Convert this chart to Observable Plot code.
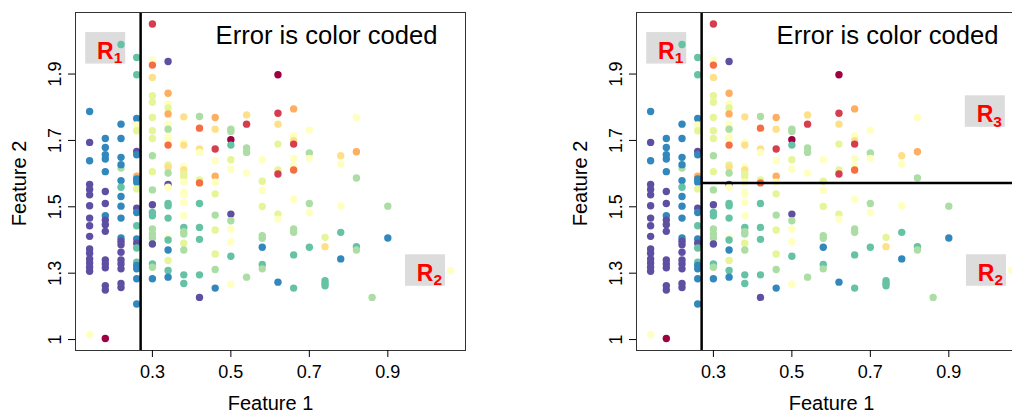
<!DOCTYPE html>
<html>
<head>
<meta charset="utf-8">
<script src="https://cdn.jsdelivr.net/npm/d3@7"></script>
<script src="https://cdn.jsdelivr.net/npm/@observablehq/plot@0.6"></script>
<style>
  html, body { margin: 0; padding: 0; background: #fff; overflow: hidden; }
  #charts { display: flex; width: 1122px; }
  #charts > svg { flex: none; }
</style>
</head>
<body>
<div id="charts"></div>
<script>
// Observations grouped by their Feature 1 value.
// Each pair is [Feature 2, error level]; level 1 = largest error, 11 = smallest.
const col014 = [[1.787,10],[1.694,11],[1.639,10],[1.567,11],[1.552,11],[1.536,11],[1.503,11],[1.466,11],[1.443,11],[1.411,11],[1.373,11],[1.360,11],[1.343,11],[1.331,11],[1.318,11],[1.306,11],[1.115,6]];
const col018 = [[1.706,10],[1.679,10],[1.657,10],[1.644,10],[1.606,10],[1.546,11],[1.510,11],[1.473,10],[1.460,11],[1.446,11],[1.426,11],[1.340,11],[1.328,11],[1.316,11],[1.262,11],[1.249,11],[1.103,1]];
const col022 = [[1.989,9],[1.749,10],[1.706,10],[1.649,10],[1.617,8],[1.627,10],[1.579,10],[1.559,9],[1.531,10],[1.502,10],[1.466,10],[1.406,10],[1.396,11],[1.386,11],[1.363,11],[1.340,11],[1.328,11],[1.313,11],[1.269,11],[1.257,11]];
const col026 = [[1.950,9],[1.898,9],[1.766,10],[1.747,6],[1.729,7],[1.667,11],[1.657,10],[1.592,4],[1.584,10],[1.574,10],[1.554,7],[1.496,11],[1.483,10],[1.443,9],[1.403,10],[1.390,11],[1.376,9],[1.333,9],[1.323,10],[1.313,10],[1.283,10],[1.207,10]];
const col030 = [[2.051,2],[1.942,6],[1.927,3],[1.890,5],[1.835,7],[1.815,7],[1.769,7],[1.729,7],[1.706,7],[1.654,8],[1.606,7],[1.551,8],[1.506,11],[1.483,9],[1.473,9],[1.433,8],[1.418,8],[1.406,8],[1.388,11],[1.328,9],[1.318,8],[1.283,10]];
const col034 = [[1.938,11],[1.842,4],[1.810,6],[1.798,7],[1.780,4],[1.749,6],[1.734,8],[1.711,6],[1.704,6],[1.686,3],[1.626,7],[1.619,5],[1.602,8],[1.567,11],[1.559,6],[1.510,9],[1.503,9],[1.466,9],[1.406,6],[1.400,9],[1.370,10],[1.338,7],[1.308,9],[1.288,10]];
const col038 = [[1.771,5],[1.694,6],[1.686,5],[1.621,6],[1.611,5],[1.599,7],[1.591,7],[1.574,6],[1.544,6],[1.537,6],[1.513,6],[1.473,6],[1.438,9],[1.425,8],[1.418,8],[1.390,7],[1.370,8],[1.295,9],[1.269,9]];
const col042 = [[1.772,8],[1.737,3],[1.674,5],[1.664,6],[1.581,7],[1.572,3],[1.510,9],[1.438,9],[1.402,9],[1.295,9],[1.227,11]];
const col046 = [[1.769,4],[1.734,5],[1.674,2],[1.639,6],[1.592,4],[1.574,6],[1.539,7],[1.475,8],[1.430,7],[1.358,7],[1.311,8],[1.255,10]];
const col050 = [[1.734,8],[1.727,8],[1.702,1],[1.686,9],[1.642,7],[1.614,6],[1.478,11],[1.458,8],[1.433,6],[1.395,6],[1.351,9],[1.267,6]];
const col054 = [[1.777,5],[1.749,2],[1.677,8],[1.664,8],[1.602,6],[1.288,8]];
const col058 = [[1.642,6],[1.577,7],[1.549,6],[1.501,7],[1.413,8],[1.405,8],[1.378,10],[1.326,9],[1.313,8]];
const col062 = [[1.898,1],[1.782,2],[1.749,5],[1.689,7],[1.611,7],[1.599,2],[1.478,7],[1.463,6],[1.273,10]];
const col066 = [[1.795,4],[1.714,6],[1.699,5],[1.689,2],[1.646,6],[1.624,6],[1.611,3],[1.523,6],[1.433,8],[1.423,8],[1.355,9],[1.255,9]];
const col070 = [[1.731,6],[1.662,8],[1.646,6],[1.510,8],[1.483,6],[1.378,9]];
const col074 = [[1.408,7],[1.380,5],[1.277,9],[1.269,9],[1.262,9]];
const col078 = [[1.654,5],[1.629,6],[1.503,6],[1.423,9],[1.343,10]];
const col082 = [[1.769,6],[1.666,4],[1.587,8],[1.380,9],[1.370,8]];
const col086 = [[1.227,8]];
const col090 = [[1.502,8],[1.406,10]];
const col106 = [[1.308,6]];

const feature1Values = [0.14, 0.18, 0.22, 0.26, 0.30, 0.34, 0.38, 0.42, 0.46, 0.50, 0.54, 0.58, 0.62, 0.66, 0.70, 0.74, 0.78, 0.82, 0.86, 0.90, 1.06];
const columnData = [col014, col018, col022, col026, col030, col034, col038, col042, col046, col050, col054, col058, col062, col066, col070, col074, col078, col082, col086, col090, col106];

// Error levels and their Spectral colours
const errorLevels = [1, 2, 3, 4, 5, 6, 7, 8, 9, 10, 11];

// Recursive binary splits
const split1Feature1 = 0.27;
const split2Feature2 = 1.572;

// Axis ticks
const xTicks = [0.3, 0.5, 0.7, 0.9];
const yTicks = [1.1, 1.3, 1.5, 1.7, 1.9];
const yTickLabels = ["1", "1.3", "1.5", "1.7", "1.9"];

const points = feature1Values.flatMap((f1, i) =>
  columnData[i].map(([f2, err]) => ({f1, f2, err}))
);

const xDomain = [0.104, 1.098];
const yDomain = [1.067, 2.0855];
const font = "'Liberation Sans', Arial, sans-serif";

// Grey tag with a red "R" and subscript, centred at (cx, cy) in data units
function regionTag(sub, cx, cy) {
  const hw = 0.051, hh = 0.0475;
  const at = [{cx, cy}];
  return [
    Plot.rect(at, {x1: d => d.cx - hw, x2: d => d.cx + hw, y1: d => d.cy - hh, y2: d => d.cy + hh, fill: "#dcdcdc"}),
    Plot.text(at, {x: "cx", y: "cy", text: () => "R", textAnchor: "end", lineAnchor: "middle", dx: 8, dy: 3,
      fontSize: 23, fontWeight: "bold", fill: "#ff0000"}),
    Plot.text(at, {x: "cx", y: "cy", text: () => sub, textAnchor: "start", lineAnchor: "middle", dx: 8, dy: 10,
      fontSize: 15.5, fontWeight: "bold", fill: "#ff0000"})
  ];
}

function panel(withSecondSplit) {
  const marks = [
    ...regionTag("1", 0.181, 1.9775),
    ...regionTag("2", 0.996, 1.308),
    ...(withSecondSplit ? regionTag("3", 0.993, 1.787) : []),
    Plot.dot(points, {x: "f1", y: "f2", fill: "err", r: 3.7}),
    Plot.ruleX([split1Feature1], {stroke: "#000", strokeWidth: 2.5}),
    ...(withSecondSplit
      ? [Plot.ruleY([split2Feature2], {x1: split1Feature1, x2: xDomain[1], stroke: "#000", strokeWidth: 2.5})]
      : []),
    Plot.frame({stroke: "#333"}),
    Plot.axisX({ticks: xTicks, tickSize: 7, tickPadding: 8, label: null, fontSize: 18}),
    Plot.axisY({ticks: yTicks, tickSize: 7, tickPadding: 8, tickRotate: -90, label: null, fontSize: 18,
      tickFormat: d => yTickLabels[yTicks.indexOf(d)]}),
    Plot.text(["Feature 1"], {frameAnchor: "bottom", lineAnchor: "middle", textAnchor: "middle", dy: 53, fontSize: 20}),
    Plot.text(["Feature 2"], {frameAnchor: "left", lineAnchor: "middle", textAnchor: "middle", dx: -56, dy: 2,
      rotate: -90, fontSize: 20}),
    Plot.text(["Error is color coded"], {frameAnchor: "top-right", dx: -28, dy: 13,
      lineAnchor: "top", textAnchor: "end", fontSize: 25.6})
  ];
  return Plot.plot({
    width: 561,
    height: 413,
    marginLeft: 75,
    marginRight: 96,
    marginTop: 12,
    marginBottom: 63,
    style: {fontFamily: font, fontSize: "18px", color: "#000", background: "#fff"},
    x: {domain: xDomain},
    y: {domain: yDomain},
    color: {type: "ordinal", domain: errorLevels, range: d3.schemeSpectral[11]},
    marks
  });
}

const host = document.getElementById("charts");
host.append(panel(false));
host.append(panel(true));
</script>
</body>
</html>
